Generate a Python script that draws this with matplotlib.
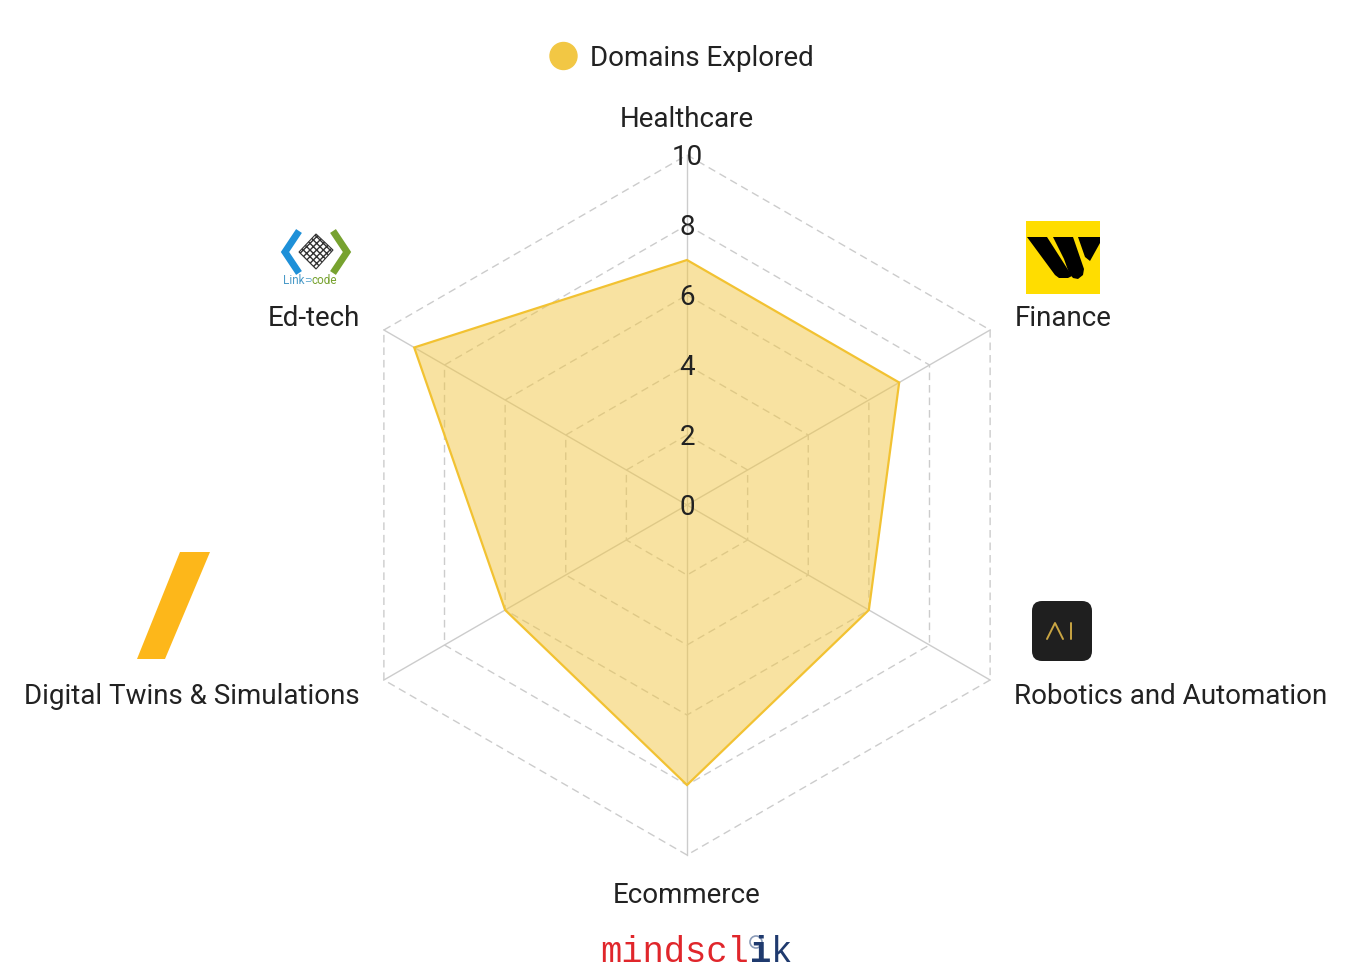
import numpy as np
import matplotlib
matplotlib.use("Agg")
import matplotlib.pyplot as plt
from matplotlib.patches import Polygon, Circle, FancyBboxPatch

plt.rcParams['font.family'] = ['Roboto', 'DejaVu Sans']
plt.rcParams['lines.scale_dashes'] = False

# ---- data ----
categories = ["Healthcare", "Finance", "Robotics and Automation",
              "Ecommerce", "Digital Twins & Simulations", "Ed-tech"]
values = [7, 7, 6, 8, 6, 9]
tick_values = [0, 2, 4, 6, 8, 10]
tick_labels = ["0", "2", "4", "6", "8", "10"]
series_name = "Domains Explored"

W, H = 1353, 968
fig = plt.figure(figsize=(W / 100, H / 100), dpi=100)
ax = fig.add_axes([0, 0, 1, 1])
unit = 35.0  # px per value unit
cx, cy = 687, 505
ax.set_xlim(-cx / unit, (W - cx) / unit)
ax.set_ylim(-(H - cy) / unit, cy / unit)
ax.axis('off')
dy = -2.5 / unit  # visual centring correction for text

n = len(categories)
theta = np.deg2rad(90 - 360.0 / n * np.arange(n))
rmax = tick_values[-1]

grid_col = '#cccccc'
# rings
for t in tick_values[1:]:
    xs = np.append(t * np.cos(theta), t * np.cos(theta[0]))
    ys = np.append(t * np.sin(theta), t * np.sin(theta[0]))
    ax.plot(xs, ys, color=grid_col, lw=1.0, dashes=(5.5, 3.5), zorder=1)
# spokes
for th in theta:
    ax.plot([0, rmax * np.cos(th)], [0, rmax * np.sin(th)], color=grid_col, lw=1.0, zorder=1)

# data polygon
v = np.array(values, dtype=float)
px = v * np.cos(theta)
py = v * np.sin(theta)
ax.add_patch(Polygon(np.column_stack([px, py]), closed=True, facecolor='#F2C744',
                     alpha=0.5, edgecolor='none', zorder=2))
ax.add_patch(Polygon(np.column_stack([px, py]), closed=True, facecolor='none',
                     edgecolor='#F2C232', lw=1.6, zorder=3))

txt_col = '#222222'
# tick labels
for t, lab in zip(tick_values, tick_labels):
    ax.text(0, t + dy, lab, ha='center', va='center', fontsize=20, color=txt_col, zorder=5)

# point labels
rl = 10.8
for th, lab in zip(theta, categories):
    c, s = np.cos(th), np.sin(th)
    if abs(c) < 0.01:
        ha = 'center'
        yy = (rl + 0.29) * np.sign(s)
        xx = 0
    else:
        ha = 'left' if c > 0 else 'right'
        xx = rl * c
        yy = rl * s
    ax.text(xx, yy + dy, lab, ha=ha, va='center', fontsize=20, color=txt_col, zorder=5)

# legend
def px2d(x, y):
    return (x - cx) / unit, (cy - y) / unit
lx, ly = px2d(563.5, 56)
ax.add_patch(Circle((lx, ly), 13.5 / unit, color='#F2C744', zorder=5))
tx, ty = px2d(590, 56)
ax.text(tx, ty + dy, series_name, ha='left', va='center', fontsize=20, color=txt_col)

# ---- logos ----
def logo_ax(x, y, w, h):
    a = fig.add_axes([x / W, 1 - (y + h) / H, w / W, h / H])
    a.set_xlim(0, w)
    a.set_ylim(h, 0)
    a.axis('off')
    return a

# Western Union style logo
a = logo_ax(1026, 221, 74, 73)
a.add_patch(Polygon([(0, 0), (74, 0), (74, 73), (0, 73)], facecolor='#FFDD00', edgecolor='none'))
for poly in ([(1, 16), (21, 16), (46, 55), (42, 57), (33, 57), (29, 54)],
             [(27, 16), (47, 16), (58, 48), (57, 54), (52, 58), (47, 57), (43, 52), (38, 38)],
             [(52, 16), (74, 16), (74, 22), (64, 40), (59, 36)]):
    a.add_patch(Polygon(poly, facecolor='black', edgecolor='none'))

# AI logo
a = logo_ax(1030, 599, 64, 64)
a.add_patch(FancyBboxPatch((2, 2), 60, 60, boxstyle='round,pad=0,rounding_size=10',
                           facecolor='#1f1f1f', edgecolor='none'))
a.plot([17, 25, 33], [40, 24, 40], color='#C9A543', lw=1.4, solid_capstyle='round')
a.plot([41, 41], [24, 40], color='#C9A543', lw=1.4, solid_capstyle='round')

# Yellow parallelogram
a = logo_ax(130, 545, 90, 120)
a.add_patch(Polygon([(50, 7), (80, 7), (35, 114), (7, 114)], facecolor='#FDB71A', edgecolor='none'))

# Link code logo
a = logo_ax(280, 222, 72, 68)
a.plot([19, 5, 19], [9, 30, 51], color='#1E90D8', lw=5, solid_capstyle='butt', solid_joinstyle='miter')
a.plot([53, 67, 53], [9, 30, 51], color='#77A22F', lw=5, solid_capstyle='butt', solid_joinstyle='miter')
a.add_patch(Polygon([(36, 12), (53, 28), (36, 47), (19, 30)], facecolor='white',
                    edgecolor='#333333', lw=0.8, hatch='xxxxx'))
a.text(24, 59, "Link", color='#4A9AC8', fontsize=8.5, ha='right', va='center')
a.text(24, 59, "\u2283", color='#4A9AC8', fontsize=6.5, ha='left', va='center')
a.text(31, 59, "code", color='#77A22F', fontsize=8.5, ha='left', va='center')

# watermark
wx, wy = px2d(600, 952)
step = 21.4 / unit
ax.text(wx, wy, "mindscl", ha='left', va='center', fontsize=25.6,
        family='Liberation Mono', color='#E0262B')
ax.text(wx + 7 * step, wy, "i", ha='left', va='center', fontsize=25.6,
        family='Liberation Mono', color='#1F3A6E', fontweight='bold')
rx, ry = px2d(756, 942)
ax.add_patch(Circle((rx, ry), 6 / unit, facecolor='none', edgecolor='#8a9bb8', lw=1.2))
ax.text(wx + 8 * step, wy, "k", ha='left', va='center', fontsize=25.6,
        family='Liberation Mono', color='#1F3A6E')

fig.savefig('out.png', dpi=100)
